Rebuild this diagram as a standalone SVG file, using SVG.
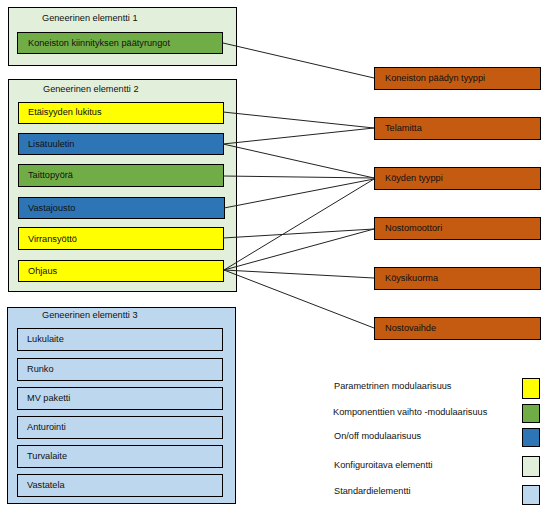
<svg xmlns="http://www.w3.org/2000/svg" width="548" height="515" viewBox="0 0 548 515">
<style>
text{font-family:"Liberation Sans",Arial,sans-serif;font-size:9.2px;fill:#111;dominant-baseline:central}
.n{stroke:#000;stroke-width:1}
.g1{fill:#E2EFDA}
.g3{fill:#BDD7EE}
.y{fill:#FFFF00}
.gr{fill:#70AD47}
.b{fill:#2E75B6}
.o{fill:#C55A11}
.lb{fill:#BDD7EE}
#connectors line{stroke:#222;stroke-width:1}
</style>
<rect width="548" height="515" fill="#fff"/>
<g id="group1">
<rect class="n g1" x="8.5" y="7.5" width="228" height="58"/>
<text x="42" y="18">Geneerinen elementti 1</text>
</g>
<g id="n_koneiston_kiinnitys"><rect class="n gr" x="17.5" y="32.5" width="205" height="21"/><text x="28" y="43">Koneiston kiinnityksen päätyrungot</text></g>
<g id="group2">
<rect class="n g1" x="8.5" y="79.5" width="228" height="212"/>
<text x="43" y="89">Geneerinen elementti 2</text>
</g>
<g id="n_etaisyyden"><rect class="n y" x="18.5" y="102.5" width="205" height="21"/><text x="28" y="112">Etäisyyden lukitus</text></g>
<g id="n_lisatuuletin"><rect class="n b" x="18.5" y="133.5" width="205" height="21"/><text x="28" y="144">Lisätuuletin</text></g>
<g id="n_taittopyora"><rect class="n gr" x="18.5" y="164.5" width="205" height="22"/><text x="28" y="175">Taittopyörä</text></g>
<g id="n_vastajousto"><rect class="n b" x="18.5" y="197.5" width="206" height="21"/><text x="28" y="208">Vastajousto</text></g>
<g id="n_virransyotto"><rect class="n y" x="18.5" y="227.5" width="205" height="22"/><text x="28" y="239">Virransyöttö</text></g>
<g id="n_ohjaus"><rect class="n y" x="18.5" y="260.5" width="205" height="21"/><text x="28" y="271">Ohjaus</text></g>
<g id="group3">
<rect class="n g3" x="7.5" y="307.5" width="228" height="196"/>
<text x="42" y="315">Geneerinen elementti 3</text>
</g>
<g id="n_lukulaite"><rect class="n lb" x="17.5" y="328.5" width="205" height="22"/><text x="27" y="339">Lukulaite</text></g>
<g id="n_runko"><rect class="n lb" x="17.5" y="358.5" width="205" height="22"/><text x="27" y="369">Runko</text></g>
<g id="n_mv"><rect class="n lb" x="17.5" y="387.5" width="205" height="22"/><text x="27" y="398">MV paketti</text></g>
<g id="n_anturointi"><rect class="n lb" x="17.5" y="416.5" width="205" height="22"/><text x="27" y="427">Anturointi</text></g>
<g id="n_turvalaite"><rect class="n lb" x="17.5" y="445.5" width="205" height="22"/><text x="27" y="456">Turvalaite</text></g>
<g id="n_vastatela"><rect class="n lb" x="17.5" y="474.5" width="205" height="22"/><text x="27" y="485">Vastatela</text></g>
<g id="n_koneiston_paadyn"><rect class="n o" x="374.5" y="67.5" width="166" height="22"/><text x="385" y="78">Koneiston päädyn tyyppi</text></g>
<g id="n_telamitta"><rect class="n o" x="374.5" y="117.5" width="166" height="22"/><text x="385" y="128">Telamitta</text></g>
<g id="n_koyden"><rect class="n o" x="374.5" y="167.5" width="166" height="22"/><text x="385" y="178">Köyden tyyppi</text></g>
<g id="n_nostomoottori"><rect class="n o" x="374.5" y="217.5" width="166" height="22"/><text x="385" y="228">Nostomoottori</text></g>
<g id="n_koysikuorma"><rect class="n o" x="374.5" y="267.5" width="166" height="22"/><text x="385" y="278">Köysikuorma</text></g>
<g id="n_nostovaihde"><rect class="n o" x="374.5" y="317.5" width="166" height="22"/><text x="385" y="328">Nostovaihde</text></g>
<g id="connectors">
<line x1="223" y1="43" x2="374" y2="78"/>
<line x1="223" y1="112" x2="374" y2="128"/>
<line x1="223" y1="144" x2="374" y2="128"/>
<line x1="223" y1="144" x2="374" y2="178"/>
<line x1="223" y1="176" x2="374" y2="178"/>
<line x1="224" y1="208" x2="374" y2="179"/>
<line x1="223" y1="238" x2="374" y2="229"/>
<line x1="224" y1="270" x2="374" y2="179"/>
<line x1="224" y1="270" x2="374" y2="229"/>
<line x1="224" y1="270" x2="374" y2="278"/>
<line x1="224" y1="270" x2="374" y2="328"/>
</g>
<g id="legend">
<text x="334" y="386">Parametrinen modulaarisuus</text>
<rect class="n y" x="522.5" y="378.5" width="17" height="20"/>
<text x="333" y="412">Komponenttien vaihto -modulaarisuus</text>
<rect class="n gr" x="522.5" y="404.5" width="17" height="18"/>
<text x="334" y="436">On/off modulaarisuus</text>
<rect class="n b" x="522.5" y="428.5" width="17" height="18"/>
<text x="334" y="465">Konfiguroitava elementti</text>
<rect class="n g1" x="522.5" y="456.5" width="17" height="20"/>
<text x="334" y="491">Standardielementti</text>
<rect class="n lb" x="522.5" y="485.5" width="17" height="19"/>
</g>
</svg>
